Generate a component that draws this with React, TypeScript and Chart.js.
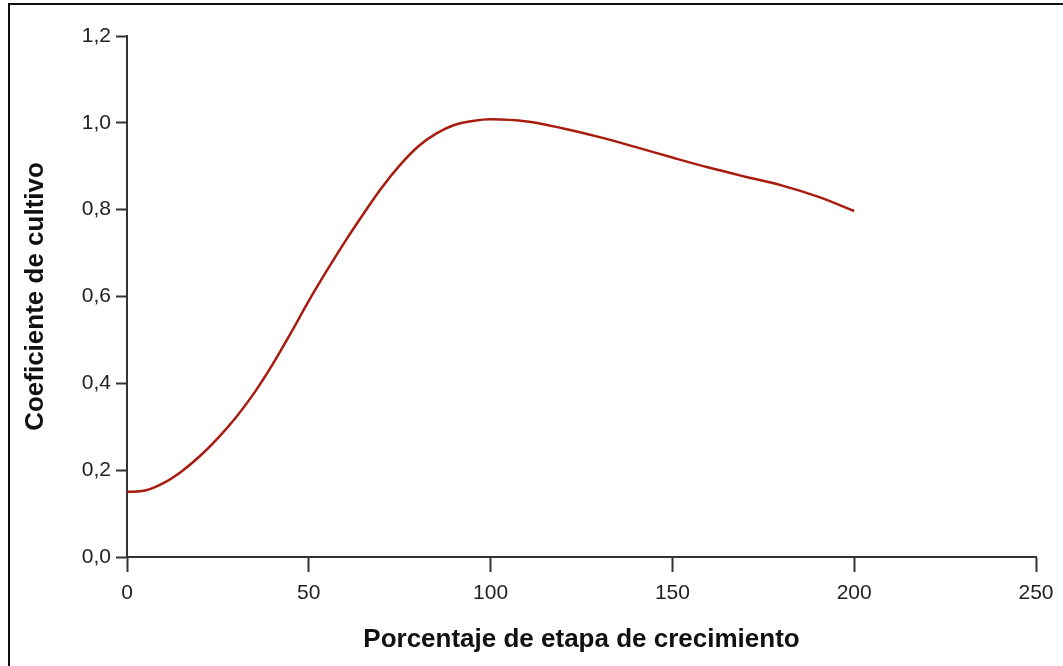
import React, { useEffect, useRef } from "react";
import { Chart, registerables } from "chart.js";

Chart.register(...registerables);

// Percentage of growth stage (x) and crop coefficient (y)
const stagePercent = [0, 5, 10, 15, 20, 25, 30, 35, 40, 45, 50, 55, 60, 65, 70, 75, 80, 85, 90, 95, 100, 110, 120, 130, 140, 150, 160, 170, 180, 190, 200];
const cropCoefficient = [0.15, 0.153, 0.17, 0.197, 0.232, 0.274, 0.322, 0.378, 0.443, 0.515, 0.59, 0.66, 0.727, 0.79, 0.85, 0.902, 0.945, 0.975, 0.995, 1.004, 1.008, 1.003, 0.987, 0.967, 0.944, 0.92, 0.897, 0.876, 0.856, 0.83, 0.797];

const xTitle = "Porcentaje de etapa de crecimiento";
const yTitle = "Coeficiente de cultivo";

const W = 1063;
const H = 666;

const framePlugin = {
  id: "frame",
  afterDraw(chart: any) {
    const ctx = chart.ctx;
    ctx.save();
    ctx.strokeStyle = "#111";
    ctx.lineWidth = 2;
    ctx.beginPath();
    ctx.moveTo(9, H);
    ctx.lineTo(9, 4);
    ctx.lineTo(W, 4);
    ctx.stroke();
    ctx.restore();
  },
};

export default function App() {
  const ref = useRef<HTMLCanvasElement | null>(null);

  useEffect(() => {
    if (!ref.current) return;
    const chart = new Chart(ref.current, {
      type: "line",
      data: {
        datasets: [
          {
            data: stagePercent.map((x, i) => ({ x, y: cropCoefficient[i] })),
            borderColor: "#a81c10",
            borderWidth: 2.5,
            pointRadius: 0,
            fill: false,
            tension: 0.4,
          },
        ],
      },
      options: {
        animation: false,
        responsive: false,
        layout: { padding: { left: 0, top: 36, right: 27, bottom: 0 } },
        plugins: {
          legend: { display: false },
          tooltip: { enabled: false },
        },
        scales: {
          x: {
            type: "linear",
            min: 0,
            max: 250,
            afterFit: (s: any) => {
              s.height = 109;
            },
            ticks: {
              stepSize: 50,
              color: "#222",
              padding: 9,
              font: { family: "'Liberation Sans', Arial, sans-serif", size: 21 },
            },
            grid: {
              drawOnChartArea: false,
              drawTicks: true,
              tickLength: 15,
              tickWidth: 2,
              tickColor: "#333",
            },
            border: { display: true, color: "#333", width: 2 },
            title: {
              display: true,
              text: xTitle,
              color: "#111",
              padding: { top: 0, bottom: 11 },
              font: { family: "'Liberation Sans', Arial, sans-serif", size: 26, weight: "bold" },
            },
          },
          y: {
            type: "linear",
            min: 0,
            max: 1.2,
            afterFit: (s: any) => {
              s.width = 127;
            },
            ticks: {
              stepSize: 0.2,
              color: "#222",
              padding: 5,
              font: { family: "'Liberation Sans', Arial, sans-serif", size: 21 },
              callback: (v: any) => Number(v).toFixed(1).replace(".", ","),
            },
            grid: {
              drawOnChartArea: false,
              drawTicks: true,
              tickLength: 11,
              tickWidth: 2,
              tickColor: "#333",
            },
            border: { display: true, color: "#333", width: 2 },
            title: {
              display: true,
              text: yTitle,
              color: "#111",
              padding: { top: 20, bottom: 0 },
              font: { family: "'Liberation Sans', Arial, sans-serif", size: 26, weight: "bold" },
            },
          },
        },
      },
      plugins: [framePlugin],
    });
    return () => chart.destroy();
  }, []);

  return (
    <div style={{ position: "fixed", left: 0, top: 0, width: W, height: H, background: "#fff" }}>
      <canvas ref={ref} width={W} height={H} style={{ display: "block" }} />
    </div>
  );
}
